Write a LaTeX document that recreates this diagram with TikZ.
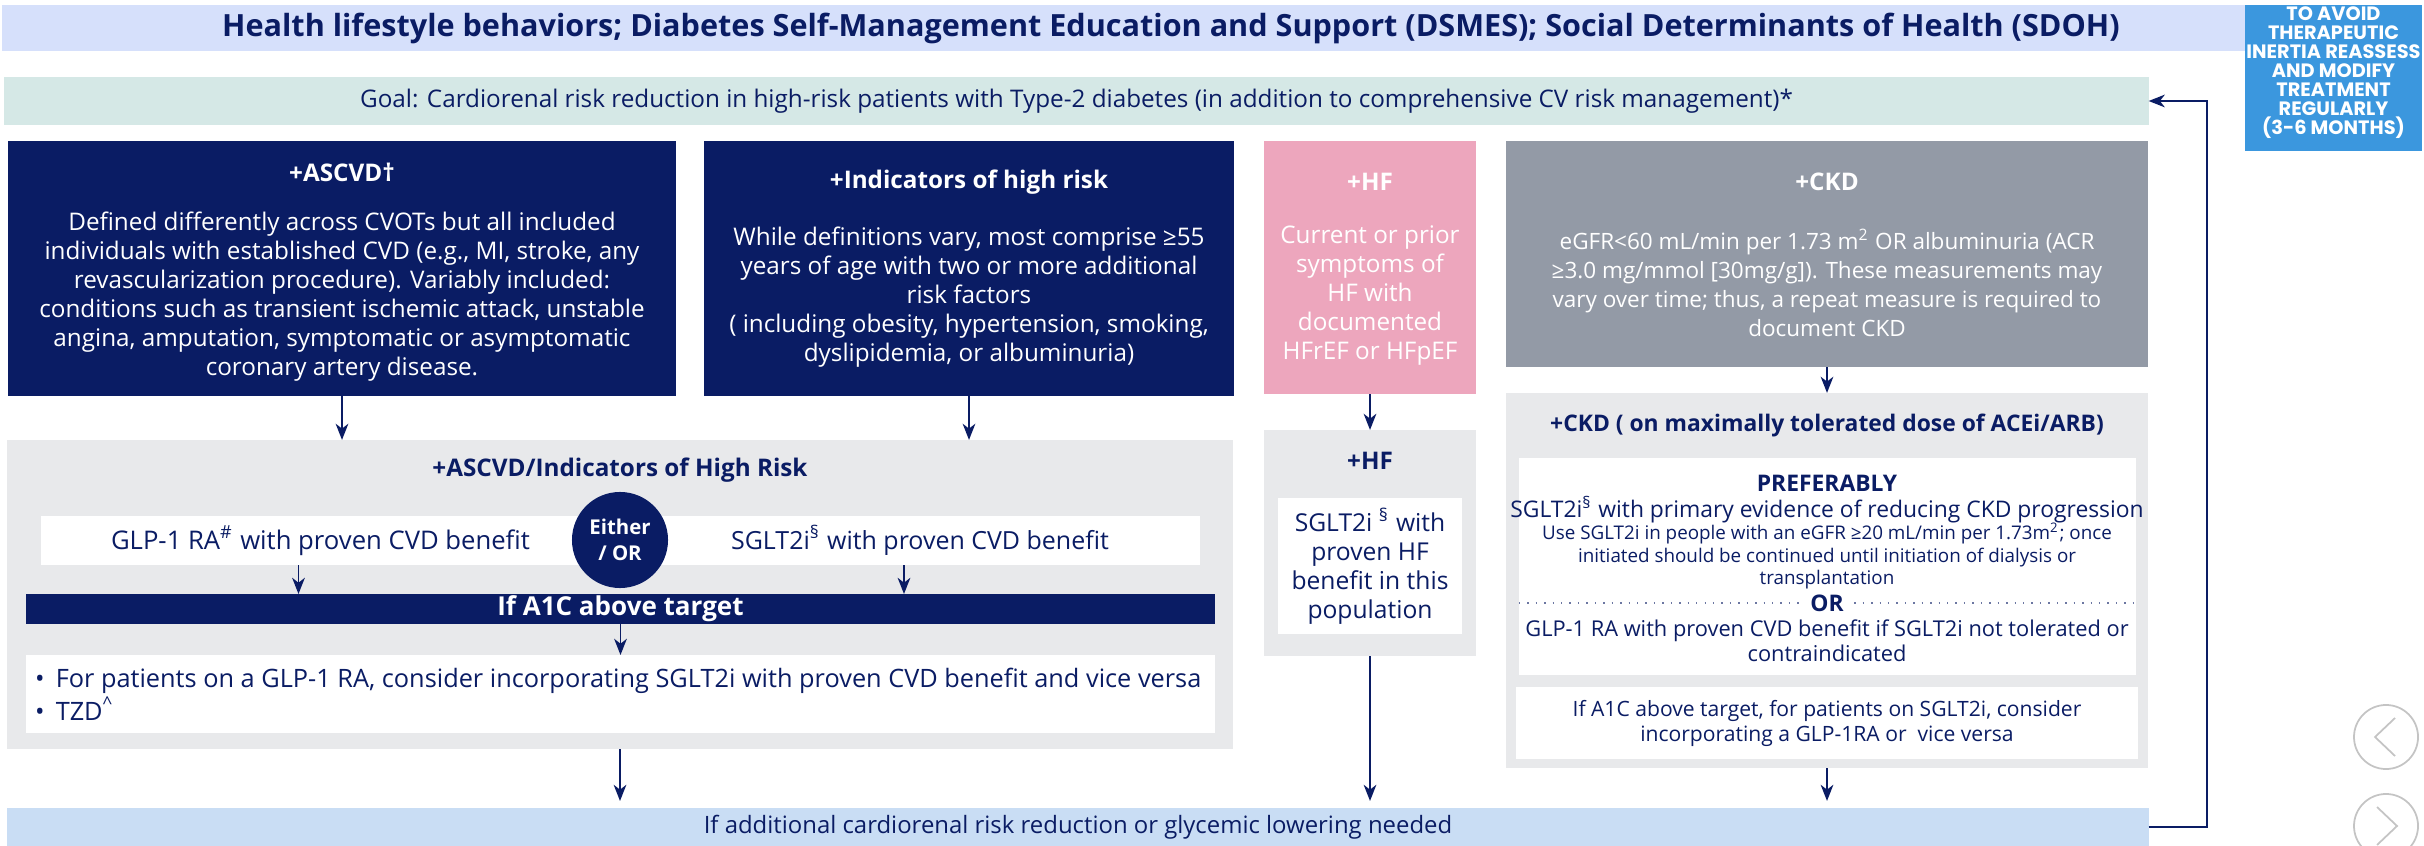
\documentclass[tikz,border=0pt]{standalone}
\usepackage{fontspec}
\setmainfont{Open Sans}
\newfontfamily\sidefont{Poppins}
\usetikzlibrary{positioning}
\usetikzlibrary{arrows.meta}

\definecolor{navy}{HTML}{0A1C64}
\definecolor{headblue}{HTML}{D6E0FB}
\definecolor{goalgreen}{HTML}{D5E8E6}
\definecolor{hfpink}{HTML}{EDA6BD}
\definecolor{ckdgrey}{HTML}{939AA6}
\definecolor{panelgrey}{HTML}{E8E9EB}
\definecolor{footblue}{HTML}{C9DDF4}
\definecolor{sideblue}{HTML}{3B97DE}
\definecolor{navgrey}{HTML}{C4C4C4}

\tikzset{
    every node/.style={inner sep=0pt, outer sep=0pt},
    body/.style={font=\fontsize{6.9}{8.25}\selectfont, align=center},
    head/.style={font=\bfseries\fontsize{6.9}{8}\selectfont},
    arr/.style={draw=navy, line width=0.55pt, -{Stealth[length=4.6pt,width=3.6pt,inset=1.4pt]}},
    navbtn/.style={circle, draw=navgrey, line width=0.5pt, minimum size=0.64cm},
}

\begin{document}
\begin{tikzpicture}[x=0.01cm, y=-0.01cm]
    \useasboundingbox (0,0) rectangle (2424,846);
    %Header
    \node[fill=headblue, minimum width=22.42cm, minimum height=0.46cm] (header) at (1124,28) {};
    \node[text=navy, font=\bfseries\fontsize{8.7}{9}\selectfont] (headtext) at (1171,28) {Health lifestyle behaviors; Diabetes Self-Management Education and Support (DSMES); Social Determinants of Health (SDOH)};
    %Reassess box
    \node[fill=sideblue, minimum width=1.77cm, minimum height=1.46cm] (side) at (2333.5,78) {};
    \node[text=white, align=center, font=\sidefont\bfseries\fontsize{5.5}{5.4}\selectfont] (sidetext) at (2333.5,73) {TO AVOID\\THERAPEUTIC\\INERTIA REASSESS\\AND MODIFY\\TREATMENT\\REGULARLY\\(3-6 MONTHS)};
    %Goal
    \node[fill=goalgreen, minimum width=21.43cm, minimum height=0.48cm, text=navy, font=\fontsize{6.9}{8}\selectfont] (goal) at (1076.5,101) {Goal: Cardiorenal risk reduction in high-risk patients with Type-2 diabetes (in addition to comprehensive CV risk management)*};

    %ASCVD
    \node[fill=navy, minimum width=6.68cm, minimum height=2.55cm] (ascvd) at (342,268.5) {};
    \node[head, text=white] (ascvdtitle) at (342,172) {+ASCVD†};
    \node[body, text=white] (ascvdtext) at (342,297) {Defined differently across CVOTs but all included\\individuals with established CVD (e.g., MI, stroke, any\\revascularization procedure). Variably included:\\conditions such as transient ischemic attack, unstable\\angina, amputation, symptomatic or asymptomatic\\coronary artery disease.};
    %Indicators of high risk
    \node[fill=navy, minimum width=5.30cm, minimum height=2.55cm] (indic) at (969,268.5) {};
    \node[head, text=white] (indictitle) at (969,182) {+Indicators of high risk};
    \node[body, text=white] (indictext) at (969,297.5) {While definitions vary, most comprise ≥55\\years of age with two or more additional\\risk factors\\( including obesity, hypertension, smoking,\\dyslipidemia, or albuminuria)};
    %HF
    \node[fill=hfpink, minimum width=2.12cm, minimum height=2.53cm] (hf) at (1370,267.5) {};
    \node[head, text=white] (hftitle) at (1370,182) {+HF};
    \node[body, text=white] (hftext) at (1370,295.5) {Current or prior\\symptoms of\\HF with\\documented\\HFrEF or HFpEF};
    %CKD
    \node[fill=ckdgrey, minimum width=6.42cm, minimum height=2.26cm] (ckd) at (1827,254) {};
    \node[head, text=white] (ckdtitle) at (1827,182) {+CKD};
    \node[body, text=white, font=\fontsize{6.4}{8.25}\selectfont] (ckdtext) at (1827,283) {eGFR<60 mL/min per 1.73 m\textsuperscript{2} OR albuminuria (ACR\\≥3.0 mg/mmol [30mg/g]). These measurements may\\vary over time; thus, a repeat measure is required to\\document CKD};

    %ASCVD/Indicators panel
    \node[fill=panelgrey, minimum width=12.26cm, minimum height=3.09cm] (risk) at (620,594.5) {};
    \node[head, text=navy] (risktitle) at (620,470) {+ASCVD/Indicators of High Risk};
    \node[fill=white, minimum width=5.59cm, minimum height=0.49cm, body, text=navy, font=\fontsize{7.3}{8}\selectfont] (glp) at (320.5,540.5) {GLP-1 RA\textsuperscript{\#} with proven CVD benefit};
    \node[fill=white, minimum width=5.60cm, minimum height=0.49cm, body, text=navy, font=\fontsize{7.1}{8}\selectfont] (sglt) at (920,540.5) {SGLT2i\textsuperscript{§} with proven CVD benefit};
    \node[circle, fill=navy, minimum size=0.96cm, text=white, align=center, font=\bfseries\fontsize{5.8}{7.5}\selectfont] (either) at (620,540) {Either\\/ OR};
    \node[fill=navy, minimum width=11.89cm, minimum height=0.30cm, text=white, font=\bfseries\fontsize{7.4}{8}\selectfont] (a1c) at (620.5,609) {If A1C above target};
    \node[fill=white, minimum width=11.89cm, minimum height=0.78cm] (bullets) at (620.5,694) {};
    \node[anchor=west, align=left, text=navy, font=\fontsize{7.2}{8}\selectfont] (bullettext) at (35,694) {•\hspace{3.2pt}For patients on a GLP-1 RA, consider incorporating SGLT2i with proven CVD benefit and vice versa\\•\hspace{3.2pt}TZD\textsuperscript{\textasciicircum}};

    %HF panel
    \node[fill=panelgrey, minimum width=2.12cm, minimum height=2.26cm] (hfpanel) at (1370,543) {};
    \node[head, text=navy] (hfpaneltitle) at (1370,461) {+HF};
    \node[fill=white, minimum width=1.84cm, minimum height=1.36cm, body, text=navy, font=\fontsize{7}{8.2}\selectfont] (hfsglt) at (1370,566) {SGLT2i \textsuperscript{§} with\\proven HF\\benefit in this\\population};

    %CKD panel
    \node[fill=panelgrey, minimum width=6.42cm, minimum height=3.75cm] (ckdpanel) at (1827,580.5) {};
    \node[head, text=navy, font=\bfseries\fontsize{6.5}{8}\selectfont] (ckdpaneltitle) at (1827,426) {+CKD ( on maximally tolerated dose of ACEi/ARB)};
    \node[fill=white, minimum width=6.17cm, minimum height=2.17cm] (ckdpref) at (1827.5,566.5) {};
    \node[head, text=navy, font=\bfseries\fontsize{6.5}{8}\selectfont] (prefer) at (1827,483) {PREFERABLY};
    \node[body, text=navy, font=\fontsize{6.5}{8}\selectfont] (prefsglt) at (1827,510) {SGLT2i\textsuperscript{§} with primary evidence of reducing CKD progression};
    \node[align=center, text=navy, font=\fontsize{5.35}{6.3}\selectfont] (prefuse) at (1827,556) {Use SGLT2i in people with an eGFR ≥20 mL/min per 1.73m\textsuperscript{2}; once\\initiated should be continued until initiation of dialysis or\\transplantation};
    \node[head, text=navy, inner xsep=3pt, font=\bfseries\fontsize{6.5}{8}\selectfont] (ortext) at (1827,603) {OR};
    \node[body, text=navy, font=\fontsize{6.2}{7.1}\selectfont] (prefglp) at (1827,640.5) {GLP-1 RA with proven CVD benefit if SGLT2i not tolerated or\\contraindicated};
    \node[fill=white, minimum width=6.22cm, minimum height=0.72cm, body, text=navy, font=\fontsize{6.0}{7.1}\selectfont] (ckdnext) at (1827,723) {If A1C above target, for patients on SGLT2i, consider\\incorporating a GLP-1RA or\ \ vice versa};
    \draw[navy!60, dotted, line width=0.4pt] (ckdpref.west |- ortext) -- (ortext.west);
    \draw[navy!60, dotted, line width=0.4pt] (ortext.east) -- (ckdpref.east |- ortext);

    %Bottom bar
    \node[fill=footblue, minimum width=21.40cm, minimum height=0.38cm, text=navy, font=\fontsize{6.8}{8}\selectfont] (foot) at (1078,827) {If additional cardiorenal risk reduction or glycemic lowering needed};

    %Top boxes - panels
    \draw[arr] (ascvd.south) -- (ascvd.south |- risk.north);
    \draw[arr] (indic.south) -- (indic.south |- risk.north);
    \draw[arr] (hf.south) -- (hf.south |- hfpanel.north);
    \draw[arr] (ckd.south) -- (ckd.south |- ckdpanel.north);
    %Options - A1C
    \draw[arr] ([xshift=-0.22cm]glp.south) -- ([xshift=-0.22cm]glp.south |- a1c.north);
    \draw[arr] ([xshift=-0.16cm]sglt.south) -- ([xshift=-0.16cm]sglt.south |- a1c.north);
    \draw[arr] (a1c.south) -- (a1c.south |- bullets.north);
    %Panels - bottom bar
    \draw[arr, shorten >=2pt] (risk.south) -- (risk.south |- foot.north);
    \draw[arr, shorten >=2pt] (hfpanel.south) -- (hfpanel.south |- foot.north);
    \draw[arr, shorten >=2pt] (ckdpanel.south) -- (ckdpanel.south |- foot.north);
    %Loop back to goal
    \coordinate (loop) at (2207,827);
    \draw[arr] (foot.east) -- (loop) |- (goal.east);

    %Navigation buttons
    \node[navbtn] (prev) at (2386,737) {};
    \node[navbtn] (next) at (2386,826) {};
    \draw[navgrey, line width=0.5pt] ([shift={(9,-19)}]prev.center) -- ++(-20,19) -- ++(20,19);
    \draw[navgrey, line width=0.5pt] ([shift={(-9,-19)}]next.center) -- ++(20,19) -- ++(-20,19);
\end{tikzpicture}
\end{document}
